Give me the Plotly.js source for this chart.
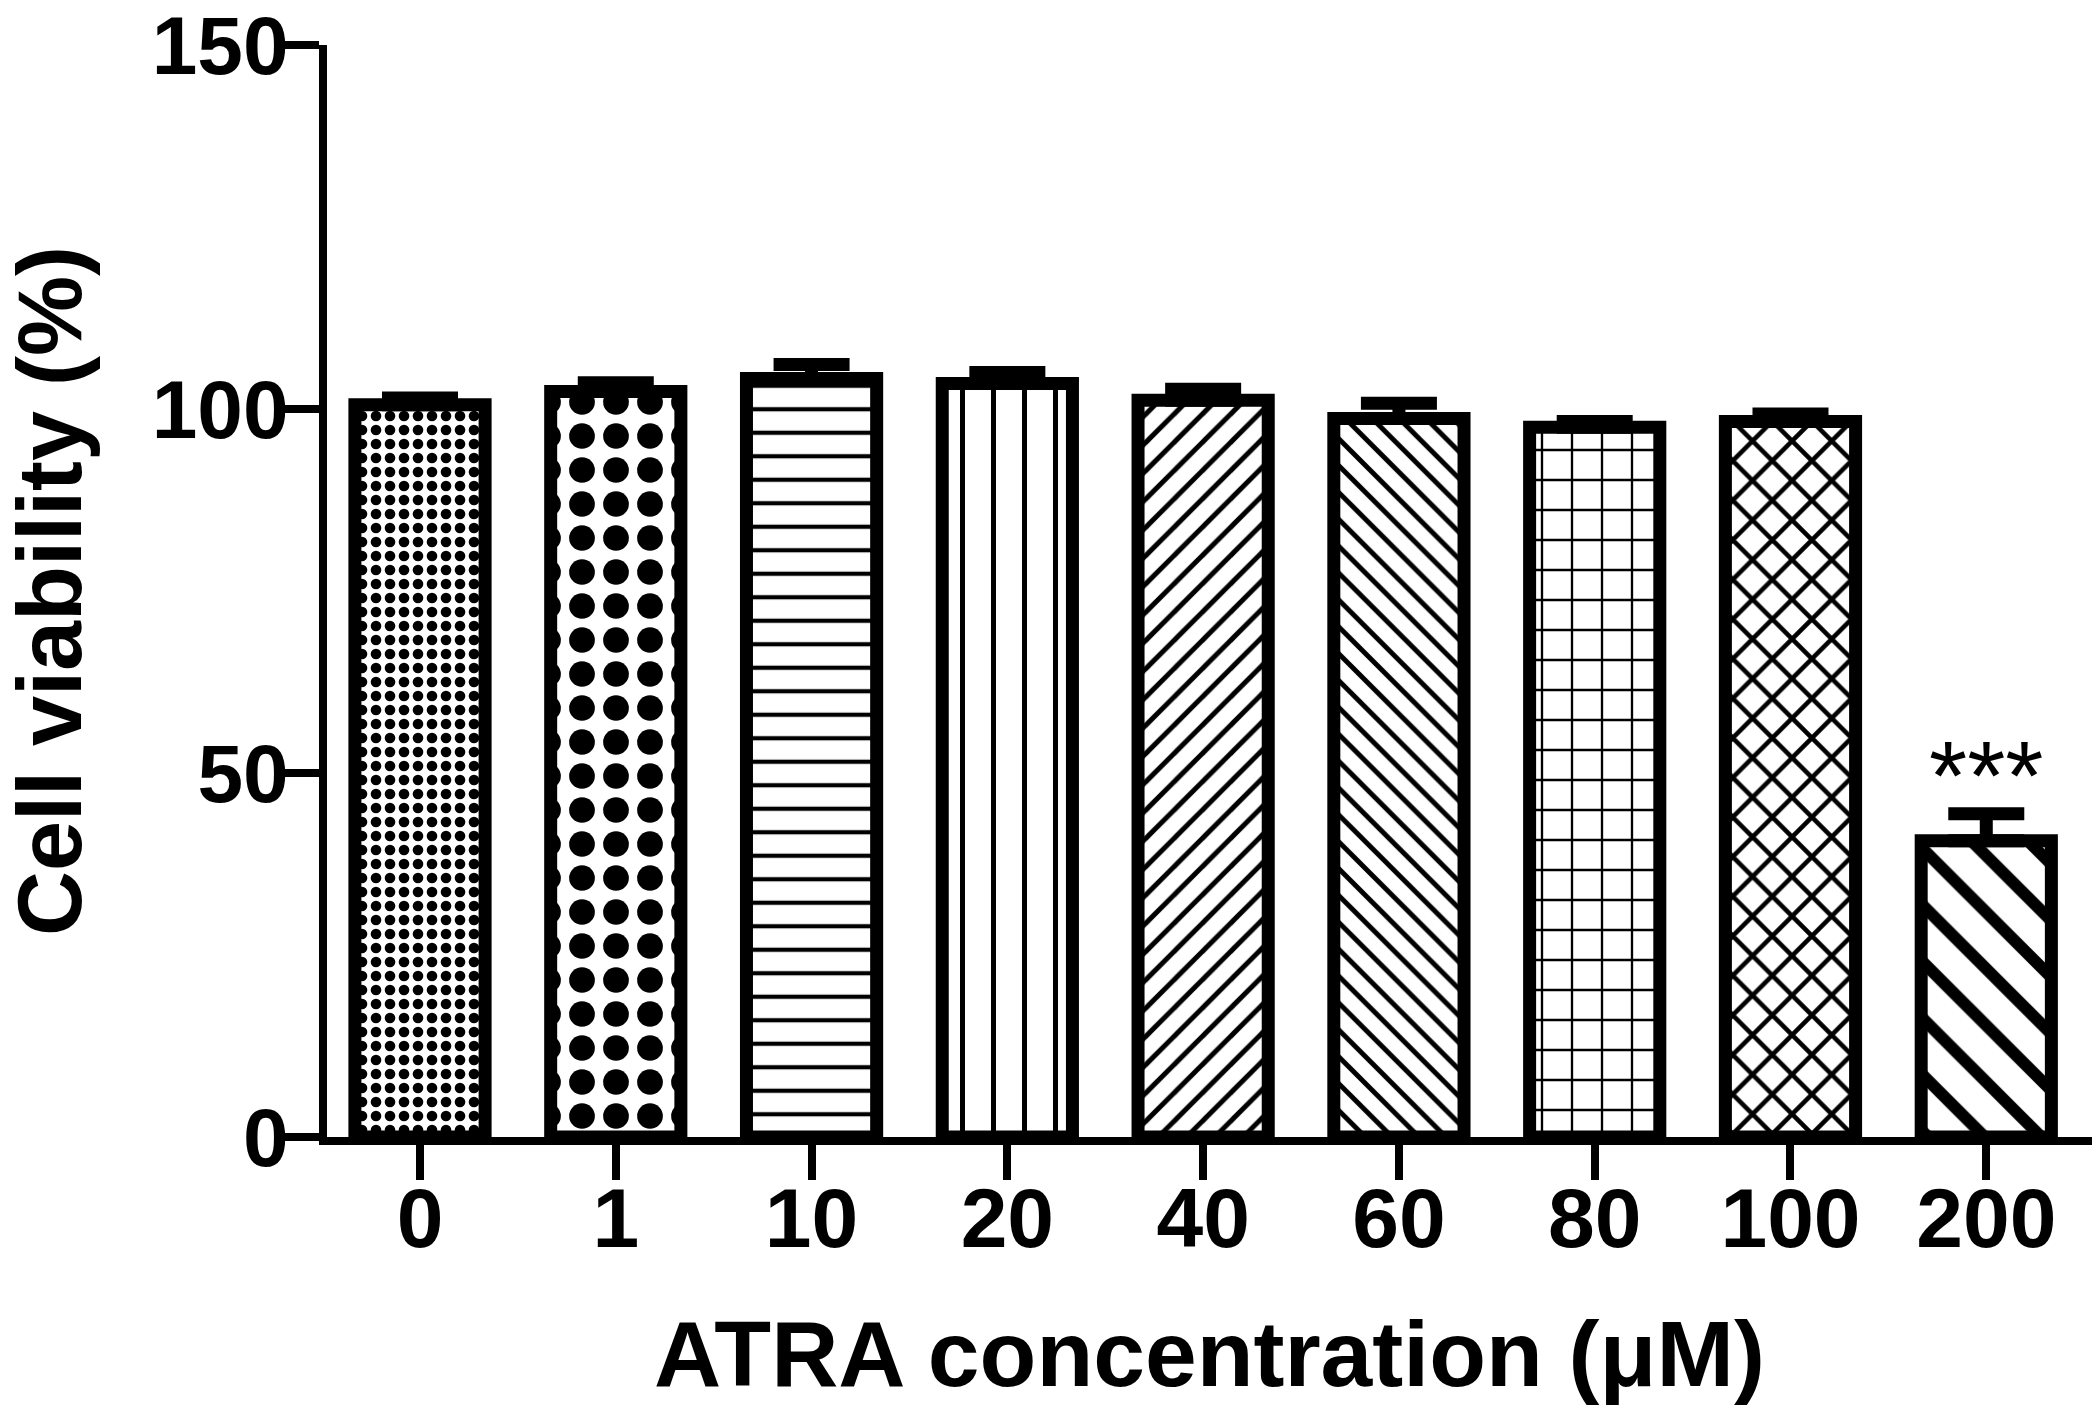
<!DOCTYPE html>
<html>
<head>
<meta charset="utf-8">
<script src="https://cdn.plot.ly/plotly-3.0.1.min.js"></script>
<style>
  html, body { margin: 0; padding: 0; background: #ffffff; }
  #chart { width: 2098px; height: 1406px; }
</style>
</head>
<body>
<div id="chart"></div>
<script>
// ---- data ----
const categories = ["0", "1", "10", "20", "40", "60", "80", "100", "200"];
const viability  = [100.6, 102.4, 104.2, 103.5, 101.2, 98.7, 97.5, 98.3, 40.7];
const sem        = [0.9, 1.2, 1.9, 1.5, 1.5, 2.1, 0.8, 1.0, 3.7];
const yTickVals  = [0, 50, 100, 150];
const yTickText  = ["0", "50", "100", "150"];
const sigLabel   = "***";
const sigCategory = "200";
const sigY = 49.6;

// ---- styles ----
const patShapes   = [".", ".", "-", "|", "/", "\\", "+", "x", "\\"];
const patSizes    = [14, 34, 23.5, 31, 20, 19, 30, 28, 40];
const patSolidity = [0.45, 0.45, 0.18, 0.16, 0.25, 0.26, 0.15, 0.3, 0.3];

const FONT = "Liberation Sans, Arial, Helvetica, sans-serif";

const trace = {
  type: "bar",
  x: categories,
  y: viability,
  width: 0.665,
  marker: {
    color: "#ffffff",
    line: { color: "#000000", width: 13 },
    pattern: {
      shape: patShapes,
      size: patSizes,
      solidity: patSolidity,
      fgcolor: "#000000",
      bgcolor: "#ffffff",
      fillmode: "replace"
    }
  },
  error_y: {
    type: "data",
    symmetric: false,
    array: sem,
    arrayminus: sem.map(() => 0),
    color: "#000000",
    thickness: 13,
    width: 38,
    visible: true
  },
  hoverinfo: "skip",
  showlegend: false
};

const layout = {
  width: 2098,
  height: 1406,
  margin: { l: 327, r: 6, t: 45, b: 269, pad: 0 },
  paper_bgcolor: "#ffffff",
  plot_bgcolor: "#ffffff",
  showlegend: false,
  xaxis: {
    type: "category",
    range: [-0.475, 8.54],
    showline: true,
    linecolor: "#000000",
    linewidth: 8,
    showgrid: false,
    zeroline: false,
    ticks: "outside",
    ticklen: 35,
    tickwidth: 8,
    tickcolor: "#000000",
    ticklabelstandoff: -34,
    ticklabeloverflow: "allow",
    tickfont: { family: FONT, size: 84, color: "#000000", weight: "bold" },
    automargin: false,
    title: {
      text: "ATRA concentration (μM)",
      font: { family: FONT, size: 93, color: "#000000", weight: "bold" },
      standoff: 63
    }
  },
  yaxis: {
    range: [0, 150],
    tickvals: yTickVals,
    ticktext: yTickText,
    showline: true,
    linecolor: "#000000",
    linewidth: 8,
    showgrid: false,
    zeroline: false,
    ticks: "outside",
    ticklen: 36,
    tickwidth: 8,
    tickcolor: "#000000",
    ticklabelstandoff: -22,
    ticklabeloverflow: "allow",
    tickfont: { family: FONT, size: 82, color: "#000000", weight: "bold" },
    automargin: false,
    title: {
      text: "Cell viability (%)",
      font: { family: FONT, size: 90, color: "#000000", weight: "bold" },
      standoff: 46
    }
  },
  annotations: [{
    x: categories.indexOf(sigCategory),
    y: sigY,
    xref: "x",
    yref: "y",
    text: sigLabel,
    showarrow: false,
    xanchor: "center",
    yanchor: "middle",
    font: { family: FONT, size: 98, color: "#000000" }
  }]
};

Plotly.newPlot("chart", [trace], layout, { displayModeBar: false, staticPlot: true });
</script>
</body>
</html>
